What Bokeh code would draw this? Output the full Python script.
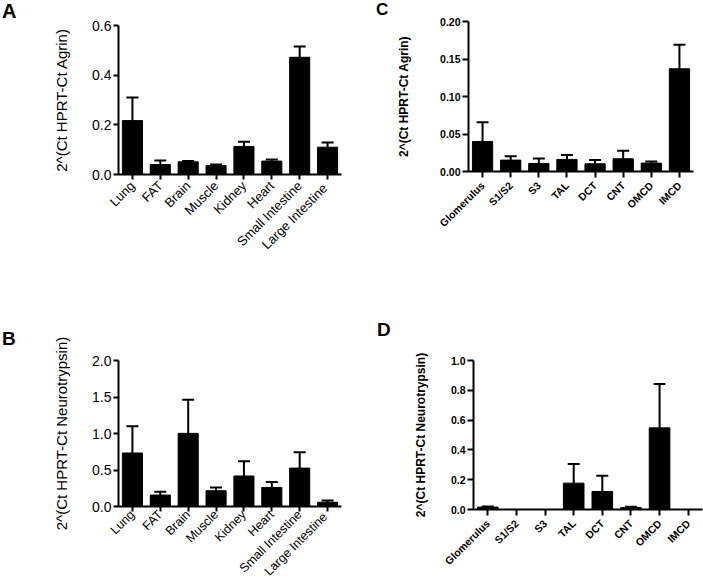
from bokeh.plotting import figure
from bokeh.models import (FactorRange, Range1d, FixedTicker, NumeralTickFormatter,
                          Whisker, TeeHead, ColumnDataSource, Div)
from bokeh.layouts import column, row
from bokeh.embed import file_html
from bokeh.resources import INLINE
import math

tissues = ["Lung", "FAT", "Brain", "Muscle", "Kidney", "Heart", "Small Intestine", "Large  Intestine"]
segments = ["Glomerulus", "S1/S2", "S3", "TAL", "DCT", "CNT", "OMCD", "IMCD"]

agrin_tissue = [0.217, 0.040, 0.051, 0.036, 0.113, 0.054, 0.472, 0.110]
agrin_tissue_upper = [0.310, 0.056, 0.054, 0.040, 0.132, 0.060, 0.515, 0.129]

neuro_tissue = [0.733, 0.157, 1.002, 0.216, 0.418, 0.261, 0.526, 0.058]
neuro_tissue_upper = [1.10, 0.202, 1.461, 0.261, 0.620, 0.337, 0.742, 0.081]

agrin_segment = [0.040, 0.0152, 0.0107, 0.0161, 0.0103, 0.017, 0.0112, 0.137]
agrin_segment_upper = [0.0656, 0.0205, 0.0174, 0.0219, 0.0152, 0.0277, 0.0134, 0.169]

neuro_segment = [0.016, 0.0, 0.0, 0.177, 0.121, 0.013, 0.548, 0.0]
neuro_segment_upper = [0.020, 0.0, 0.0, 0.306, 0.226, 0.018, 0.843, 0.0]

FONT = "Liberation Sans"


def letter_div(letter, width, height, size, left, top):
    html = ('<div style="font-family:\'Liberation Sans\';font-weight:bold;'
            'font-size:%dpx;line-height:1;margin:0;padding-left:%dpx;padding-top:%dpx;color:black;">%s</div>'
            % (size, left, top, letter))
    return Div(text=html, width=width, height=height, margin=0)


def panel(cats, vals, upper, ymax, ticks, fmt, ytitle, bold,
          width, height, borders, ystandoff, xsize, xstandoff):
    left, right, top, bottom = borders
    p = figure(x_range=FactorRange(*cats), y_range=Range1d(0, ymax),
               width=width, height=height, output_backend="svg",
               toolbar_location=None, tools="",
               min_border_left=left, min_border_right=right,
               min_border_top=top, min_border_bottom=bottom)
    p.frame_align = False
    p.margin = 0
    p.outline_line_color = None
    p.xgrid.grid_line_color = None
    p.ygrid.grid_line_color = None
    p.background_fill_color = "white"

    src = ColumnDataSource(dict(cat=cats, val=vals, up=upper))
    p.vbar(x="cat", top="val", width=0.72, source=src, fill_color="black",
           line_color="black", line_width=1)

    keep = [i for i in range(len(cats)) if upper[i] > vals[i]]
    wsrc = ColumnDataSource(dict(cat=[cats[i] for i in keep],
                                 val=[vals[i] for i in keep],
                                 up=[upper[i] for i in keep]))
    w = Whisker(source=wsrc, base="cat", lower="val", upper="up",
                line_color="black", line_width=2,
                upper_head=TeeHead(size=12, line_width=2, line_color="black"),
                lower_head=None)
    p.add_layout(w)

    weight = "bold" if bold else "normal"
    tick_size = "10.5px" if bold else "14px"
    title_size = "12px" if bold else "15px"

    for ax in (p.xaxis[0], p.yaxis[0]):
        ax.axis_line_width = 2
        ax.axis_line_color = "black"
        ax.major_tick_line_width = 2
        ax.major_tick_line_color = "black"
        ax.major_tick_out = 6 if bold else 5
        ax.major_tick_in = 0
        ax.minor_tick_line_color = None
        ax.major_label_text_color = "black"
        ax.major_label_text_font = FONT
        ax.major_label_text_font_style = weight
        ax.major_label_standoff = 2

    p.yaxis.ticker = FixedTicker(ticks=ticks)
    p.yaxis.formatter = NumeralTickFormatter(format=fmt)
    p.yaxis.major_label_text_font_size = tick_size
    p.yaxis.axis_label = ytitle
    p.yaxis.axis_label_text_font = FONT
    p.yaxis.axis_label_text_font_style = weight
    p.yaxis.axis_label_text_font_size = title_size
    p.yaxis.axis_label_text_color = "black"
    p.yaxis.axis_label_standoff = ystandoff

    p.xaxis.major_label_orientation = math.pi / 4
    p.xaxis.major_label_text_font_size = xsize
    p.xaxis.major_label_standoff = xstandoff
    return p


pA = panel(tissues, agrin_tissue, agrin_tissue_upper, 0.6, [0, 0.2, 0.4, 0.6], "0.0",
           "2^(Ct HPRT-Ct Agrin)", False, 329, 292, (96, 10, 25, 118), 19, "13px", 4)
pC = panel(segments, agrin_segment, agrin_segment_upper, 0.20,
           [0, 0.05, 0.10, 0.15, 0.20], "0.00",
           "2^(Ct HPRT-Ct Agrin)", True, 310, 292, (75, 10, 21, 121), 26, "10.5px", 6)
pB = panel(tissues, neuro_tissue, neuro_tissue_upper, 2.0, [0, 0.5, 1.0, 1.5, 2.0], "0.0",
           "2^(Ct HPRT-Ct Neurotrypsin)", False, 329, 294, (96, 10, 68, 78), 19, "12.5px", 1)
pD = panel(segments, neuro_segment, neuro_segment_upper, 1.0,
           [0, 0.2, 0.4, 0.6, 0.8, 1.0], "0.0",
           "2^(Ct HPRT-Ct Neurotrypsin)", True, 310, 294, (80, 1, 68, 77), 20, "10.5px", 6)

dA = letter_div("A", 22, 292, 20, 2, 1)
dC = letter_div("C", 42, 292, 17, 25, 1)
dB = letter_div("B", 22, 294, 19, 2, 37)
dD = letter_div("D", 42, 294, 19, 26, 28)

top_row = row(dA, pA, dC, pC)
bottom_row = row(dB, pB, dD, pD)
top_row.margin = 0
bottom_row.margin = 0
layout = column(top_row, bottom_row)
layout.margin = 0
open("out.html", "w").write(file_html(layout, INLINE))
